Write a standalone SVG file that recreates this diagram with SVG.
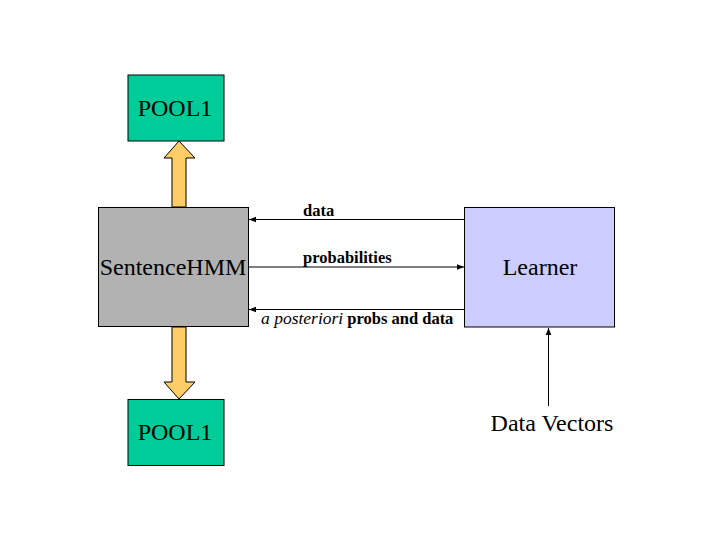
<svg xmlns="http://www.w3.org/2000/svg" width="720" height="540" viewBox="0 0 720 540">
<style>
.box{stroke:#000;stroke-width:1}
.lbl{font-family:'Liberation Serif','Times New Roman',serif;font-size:24px;fill:#000;text-anchor:middle}
.sm{font-family:'Liberation Serif','Times New Roman',serif;font-size:16.5px;font-weight:bold;fill:#000}
.con{stroke:#000;stroke-width:1;fill:none}
.fat{fill:#FFCC66;stroke:#000;stroke-width:1}
</style>
<defs>
<marker id="ah" viewBox="0 0 10 10" refX="10" refY="5" markerWidth="7" markerHeight="7" markerUnits="userSpaceOnUse" orient="auto">
<path d="M0,1 L10,5 L0,9 z" fill="#000"/>
</marker>
</defs>
<rect width="720" height="540" fill="#fff"/>
<g id="connectors">
<polygon class="fat" points="172,207 172,158 164,158 179,141 195,158 186,158 186,207"/>
<polygon class="fat" points="172,327 172,382 164,382 179,399 195,382 186,382 186,327"/>
<line class="con" x1="464" y1="219.5" x2="249" y2="219.5" marker-end="url(#ah)"/>
<line class="con" x1="249" y1="267" x2="464" y2="267" marker-end="url(#ah)"/>
<line class="con" x1="464" y1="309.5" x2="249" y2="309.5" marker-end="url(#ah)"/>
<line class="con" x1="548.5" y1="406" x2="548.5" y2="328" marker-end="url(#ah)"/>
<text class="sm" x="303" y="216">data</text>
<text class="sm" x="303" y="263">probabilities</text>
<text class="sm" x="261" y="324"><tspan font-style="italic" font-weight="normal" font-size="17.5">a posteriori</tspan> probs and data</text>
</g>
<g id="pool1-top">
<rect class="box" x="128" y="75" width="96" height="66" fill="#00CC99"/>
<text class="lbl" x="175" y="116" font-size="22">POOL1</text>
</g>
<g id="sentencehmm">
<rect class="box" x="98.5" y="207.5" width="150" height="119" fill="#B2B2B2"/>
<text class="lbl" x="173" y="275">SentenceHMM</text>
</g>
<g id="pool1-bottom">
<rect class="box" x="128" y="399.5" width="96" height="66" fill="#00CC99"/>
<text class="lbl" x="175" y="440" font-size="22">POOL1</text>
</g>
<g id="learner">
<rect class="box" x="464.5" y="207.5" width="150" height="119.5" fill="#CCCCFF"/>
<text class="lbl" x="540" y="275" font-size="24.5">Learner</text>
</g>
<g id="data-vectors">
<text class="lbl" x="552" y="431" font-size="25">Data Vectors</text>
</g>
</svg>
